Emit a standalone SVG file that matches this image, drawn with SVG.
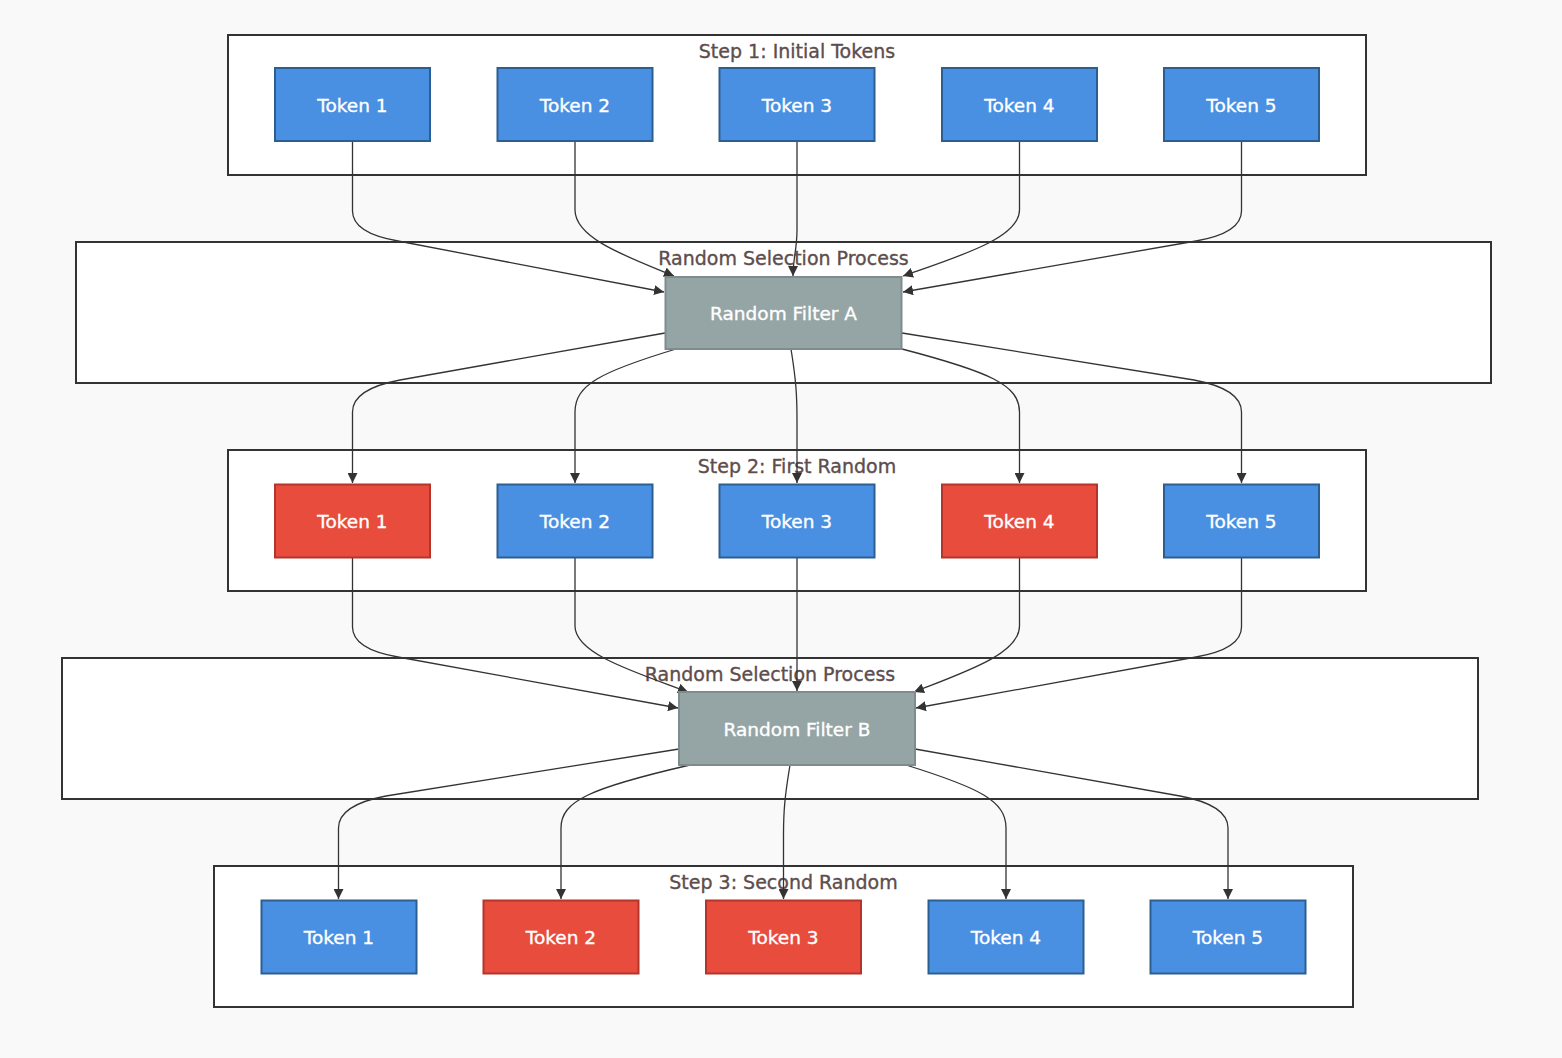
<svg xmlns="http://www.w3.org/2000/svg" width="1562" height="1058" viewBox="0 0 1562 1058">
<style>
.bg{fill:#f9f9f9}
.cluster rect{fill:#ffffff;stroke:#333333;stroke-width:2}
.cluster text{fill:#5e4d4d;stroke:#5e4d4d;stroke-width:0.35;font-family:"Trebuchet MS","DejaVu Sans",sans-serif;font-size:19px;text-anchor:middle}
.node text{fill:#ffffff;stroke:#ffffff;stroke-width:0.35;font-family:"Trebuchet MS","DejaVu Sans",sans-serif;font-size:18.5px;text-anchor:middle}
.blue rect{fill:#4a90e2;stroke:#2c5f91;stroke-width:2}
.red rect{fill:#e74c3c;stroke:#b5352a;stroke-width:2}
.gray rect{fill:#95a5a6;stroke:#7f8c8d;stroke-width:2}
.edges path{fill:none;stroke:#333333;stroke-width:1.3;marker-end:url(#arrow)}
</style>
<defs>
<marker id="arrow" viewBox="0 0 10 10" refX="10" refY="5" markerWidth="10" markerHeight="10" markerUnits="userSpaceOnUse" orient="auto">
<path d="M0,0 L10,5 L0,10 z" fill="#333333"/>
</marker>
</defs>
<rect class="bg" x="0" y="0" width="1562" height="1058"/>

<g id="cluster-step1" class="cluster"><rect x="228" y="35" width="1138" height="140"/><text x="797" y="58">Step 1: Initial Tokens</text></g>
<g id="cluster-randomA" class="cluster"><rect x="76" y="242" width="1415" height="141"/><text x="783.5" y="265">Random Selection Process</text></g>
<g id="cluster-step2" class="cluster"><rect x="228" y="450" width="1138" height="141"/><text x="797" y="473">Step 2: First Random</text></g>
<g id="cluster-randomB" class="cluster"><rect x="62" y="658" width="1416" height="141"/><text x="770" y="681">Random Selection Process</text></g>
<g id="cluster-step3" class="cluster"><rect x="214" y="866" width="1139" height="141"/><text x="783.5" y="889">Step 3: Second Random</text></g>

<g id="edges" class="edges">
<path d="M352.5,142 L352.5,211 Q352.5,233 398,241 L664,292"/>
<path d="M575,142 L575,210 C575,238 625,256 674,276"/>
<path d="M797,142 L797,230 C797,250 793,258 793,276"/>
<path d="M1019.5,142 L1019.5,210 C1019.5,238 960,256 903,276"/>
<path d="M1241.5,142 L1241.5,211 Q1241.5,233 1196,241 L903,292"/>

<path d="M665,333 L400,380 Q352.5,389 352.5,412 L352.5,483"/>
<path d="M676,349 C600,372 575,385 575,412 L575,483"/>
<path d="M791,349 C796,380 797,395 797,420 L797,483"/>
<path d="M902,349 C990,372 1019.5,385 1019.5,412 L1019.5,483"/>
<path d="M902,333 L1194,380 Q1241.5,389 1241.5,412 L1241.5,483"/>

<path d="M352.5,558 L352.5,627 Q352.5,649 398,657 L678,708"/>
<path d="M575,558 L575,626 C575,654 635,672 688,692"/>
<path d="M797,558 L797,691"/>
<path d="M1019.5,558 L1019.5,626 C1019.5,654 965,672 914,692"/>
<path d="M1241.5,558 L1241.5,627 Q1241.5,649 1196,657 L916,708"/>

<path d="M679,749 L386,796 Q338.5,805 338.5,828 L338.5,899"/>
<path d="M690,765 C590,788 561,801 561,828 L561,899"/>
<path d="M790,765 C785,795 783.5,810 783.5,835 L783.5,899"/>
<path d="M906,765 C980,788 1006,801 1006,828 L1006,899"/>
<path d="M915,749 L1180,796 Q1228,805 1228,828 L1228,899"/>
</g>

<g id="s1-t1" class="node blue"><rect x="275" y="68" width="155" height="73"/><text x="352.5" y="111.5">Token 1</text></g>
<g id="s1-t2" class="node blue"><rect x="497.5" y="68" width="155" height="73"/><text x="575" y="111.5">Token 2</text></g>
<g id="s1-t3" class="node blue"><rect x="719.5" y="68" width="155" height="73"/><text x="797" y="111.5">Token 3</text></g>
<g id="s1-t4" class="node blue"><rect x="942" y="68" width="155" height="73"/><text x="1019.5" y="111.5">Token 4</text></g>
<g id="s1-t5" class="node blue"><rect x="1164" y="68" width="155" height="73"/><text x="1241.5" y="111.5">Token 5</text></g>

<g id="filterA" class="node gray"><rect x="665.5" y="277" width="236" height="72"/><text x="783.5" y="320">Random Filter A</text></g>

<g id="s2-t1" class="node red"><rect x="275" y="484.5" width="155" height="73"/><text x="352.5" y="528">Token 1</text></g>
<g id="s2-t2" class="node blue"><rect x="497.5" y="484.5" width="155" height="73"/><text x="575" y="528">Token 2</text></g>
<g id="s2-t3" class="node blue"><rect x="719.5" y="484.5" width="155" height="73"/><text x="797" y="528">Token 3</text></g>
<g id="s2-t4" class="node red"><rect x="942" y="484.5" width="155" height="73"/><text x="1019.5" y="528">Token 4</text></g>
<g id="s2-t5" class="node blue"><rect x="1164" y="484.5" width="155" height="73"/><text x="1241.5" y="528">Token 5</text></g>

<g id="filterB" class="node gray"><rect x="679" y="692" width="236" height="73"/><text x="797" y="735.5">Random Filter B</text></g>

<g id="s3-t1" class="node blue"><rect x="261.5" y="900.5" width="155" height="73"/><text x="339" y="944">Token 1</text></g>
<g id="s3-t2" class="node red"><rect x="483.5" y="900.5" width="155" height="73"/><text x="561" y="944">Token 2</text></g>
<g id="s3-t3" class="node red"><rect x="706" y="900.5" width="155" height="73"/><text x="783.5" y="944">Token 3</text></g>
<g id="s3-t4" class="node blue"><rect x="928.5" y="900.5" width="155" height="73"/><text x="1006" y="944">Token 4</text></g>
<g id="s3-t5" class="node blue"><rect x="1150.5" y="900.5" width="155" height="73"/><text x="1228" y="944">Token 5</text></g>
</svg>
